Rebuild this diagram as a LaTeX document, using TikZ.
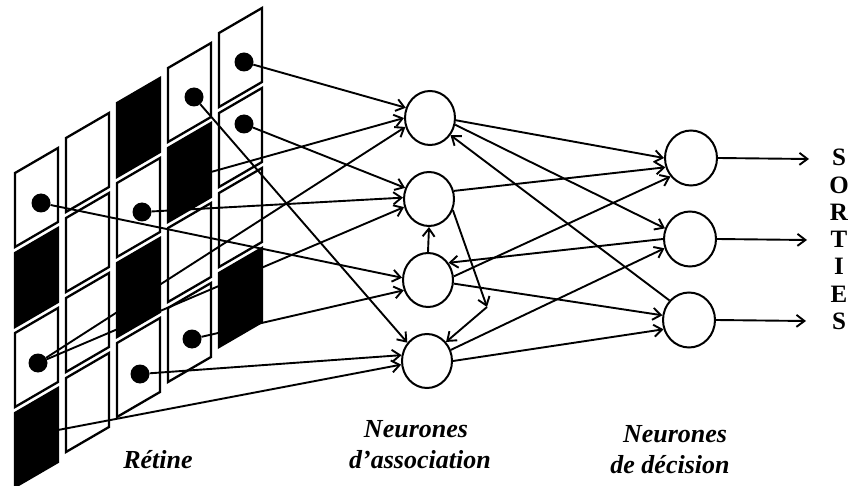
\documentclass[tikz,border=0pt]{standalone}
\usepackage{fontspec}
\setmainfont{Liberation Serif}
\usetikzlibrary{arrows.meta,shapes.geometric}
\begin{document}
\begin{tikzpicture}[x=1pt,y=-1pt,
  cellw/.style={draw=black,line width=2.3pt,line join=miter},
  cellb/.style={draw=black,fill=black,line width=2.3pt,line join=miter},
  dotn/.style={circle,fill=black,inner sep=0pt,minimum size=19pt},
  neur/.style={ellipse,draw=black,line width=2pt,minimum width=50pt,minimum height=54pt,inner sep=0pt},
  dneur/.style={neur,minimum width=52pt,minimum height=55pt},
  wire/.style={line width=1.9pt,-{Straight Barb[length=8pt,width=12pt]}},
  lab/.style={font=\fontsize{26}{28}\selectfont\bfseries\itshape,anchor=base,inner sep=0pt},
  outl/.style={font=\fontsize{25}{27.3}\selectfont\bfseries,align=center,anchor=north,inner sep=0pt}
]
\useasboundingbox (0,0) rectangle (848,486);
% retina cells
\foreach \c/\r/\s in {0/0/cellw,0/1/cellb,0/2/cellw,0/3/cellb,
                        1/0/cellw,1/1/cellw,1/2/cellw,1/3/cellw,
                        2/0/cellb,2/1/cellw,2/2/cellb,2/3/cellw,
                        3/0/cellw,3/1/cellb,3/2/cellw,3/3/cellw,
                        4/0/cellw,4/1/cellw,4/2/cellw,4/3/cellb}{
  \draw[\s] ({15+51*\c},{173-35*\c+80*\r}) -- ++(43,-25) -- ++(0,74) -- ++(-43,25) -- cycle;
}
% dots
\node[dotn] (d00) at (41,203) {};
\node[dotn] (d02) at (38,363) {};
\node[dotn] (d21) at (142,212) {};
\node[dotn] (d23) at (140,374) {};
\node[dotn] (d30) at (194,97) {};
\node[dotn] (d33) at (192,339) {};
\node[dotn] (d40) at (244,62) {};
\node[dotn] (d41) at (244,124) {};
\coordinate (b31) at (211,172);
\coordinate (b03) at (58,430);
% neurons
\node[neur] (A1) at (430,118) {};
\node[neur] (A2) at (429,199) {};
\node[neur] (A3) at (428,280) {};
\node[neur] (A4) at (427,361) {};
\node[dneur] (D1) at (691,158) {};
\node[dneur] (D2) at (690,239) {};
\node[dneur] (D3) at (689,320) {};
\coordinate (c1) at (487,307);
\coordinate (o1) at (809,159);
\coordinate (o2) at (807,240);
\coordinate (o3) at (806,321);
% retina -> association
\draw[wire] (d40) -- (A1.157);
\draw[wire] (b31) -- (A1.180);
\draw[wire] (d02) -- (A1.200);
\draw[wire] (d41) -- (A2.155);
\draw[wire] (d21) -- (A2.177);
\draw[wire] (d02) -- (A2.198);
\draw[wire] (d00) -- (A3.175);
\draw[wire] (d33) -- (A3.203);
\draw[wire] (d30) -- (A4.137);
\draw[wire] (d23) -- (A4.167);
\draw[wire] (b03) -- (A4.188);
% association <-> decision
\draw[wire] (A1.355) -- (D1.180);
\draw[wire] (A1.345) -- (D2.157);
\draw[wire] (D3.135) -- (A1.320);
\draw[wire] (A2.18) -- (D1.200);
\draw[wire] (A2.335) -- (c1);
\draw[wire] (c1) -- (A4.45);
\draw[wire] (A3.90) -- (A2.270);
\draw[wire] (D2.180) -- (A3.40);
\draw[wire] (A3.8) -- (D1.222);
\draw[wire] (A3.352) -- (D3.170);
\draw[wire] (A4.25) -- (D2.200);
\draw[wire] (A4.0) -- (D3.200);
% outputs
\draw[wire] (D1.east) -- (o1);
\draw[wire] (D2.east) -- (o2);
\draw[wire] (D3.east) -- (o3);
\node[outl] (sorties) at (839,149) {S\\O\\R\\T\\I\\E\\S};
% labels
\node[lab] (ret) at (158,468) {Rétine};
\node[lab] (na1) at (416,437) {Neurones};
\node[lab] (na2) at (420,468) {d'association};
\node[lab] (nd1) at (675,442) {Neurones};
\node[lab] (nd2) at (670,473) {de décision};
\end{tikzpicture}
\end{document}
